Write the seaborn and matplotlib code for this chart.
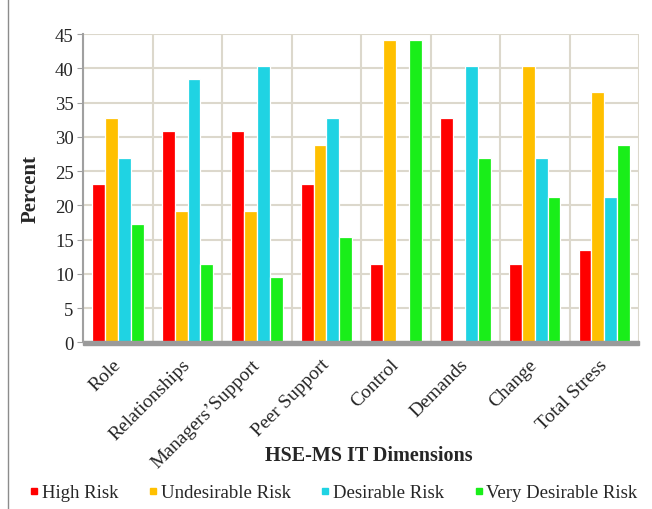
import pandas as pd
import matplotlib.pyplot as plt
import seaborn as sns

# Data
dimensions = ["Role", "Relationships", "Managers\u2019Support", "Peer Support",
              "Control", "Demands", "Change", "Total Stress"]
high_risk = [23.1, 30.8, 30.8, 23.1, 11.5, 32.7, 11.5, 13.5]
undesirable_risk = [32.7, 19.2, 19.2, 28.8, 44.2, 0.0, 40.4, 36.5]
desirable_risk = [26.9, 38.5, 40.4, 32.7, 0.0, 40.4, 26.9, 21.2]
very_desirable_risk = [17.3, 11.5, 9.6, 15.4, 44.2, 26.9, 21.2, 28.8]
series_names = ["High Risk", "Undesirable Risk", "Desirable Risk", "Very Desirable Risk"]
colors = ["#ff0000", "#ffc000", "#1fd3e3", "#19ee19"]

df = pd.DataFrame({
    "Dimension": dimensions * 4,
    "Risk": [s for s in series_names for _ in dimensions],
    "Percent": high_risk + undesirable_risk + desirable_risk + very_desirable_risk,
})

sns.set_style("white")
plt.rcParams["font.family"] = ["Liberation Serif", "DejaVu Serif"]

fig = plt.figure(figsize=(6.52, 5.10), dpi=100)
ax = fig.add_axes([0.128, 0.327, 0.852, 0.604])

sns.barplot(data=df, x="Dimension", y="Percent", hue="Risk", palette=colors,
            saturation=1, width=0.74, edgecolor="white", linewidth=0.9,
            ax=ax, legend=False)

ax.set_ylim(0, 45)
ax.set_yticks(range(0, 46, 5))
ax.set_xlim(-0.5, len(dimensions) - 0.5)
ax.yaxis.grid(True, color="#dcd8cc", linewidth=1.5)
for x in range(len(dimensions) + 1):
    ax.axvline(x - 0.5, color="#dcd8cc", linewidth=1.5, zorder=0)
ax.set_axisbelow(True)

# floor
ax.axhspan(-0.35, 0.25, color="#9a9a9a", zorder=1, clip_on=False)

for side in ["top", "right", "bottom"]:
    ax.spines[side].set_visible(False)
ax.spines["left"].set_color("#a0a0a0")
ax.spines["left"].set_linewidth(1.5)
ax.tick_params(axis="y", labelsize=13.5, length=4, color="#a0a0a0", left=True, pad=3)
ax.tick_params(axis="x", labelsize=14, length=0, pad=14)
plt.setp(ax.get_xticklabels(), rotation=45, ha="right", va="center",
         rotation_mode="anchor")

ax.set_ylabel("Percent", fontsize=15, fontweight="bold", labelpad=10)
ax.set_xlabel("")
fig.text(0.565, 0.105, "HSE-MS IT Dimensions", fontsize=14.5, fontweight="bold",
         ha="center", va="center")

handles = [plt.Line2D([], [], marker="s", linestyle="", color=c, markersize=5)
           for c in colors]
fig.legend(handles, series_names, loc="center", bbox_to_anchor=(0.51, 0.032),
           ncol=4, frameon=False, fontsize=13.5, handletextpad=0.05,
           columnspacing=1.5, handlelength=0.7)

# outer frame (left edge)
fig.add_artist(plt.Line2D([0.013, 0.013], [0, 1], color="#8c8c8c", linewidth=1,
                          transform=fig.transFigure))

plt.savefig("out.png", dpi=100)
